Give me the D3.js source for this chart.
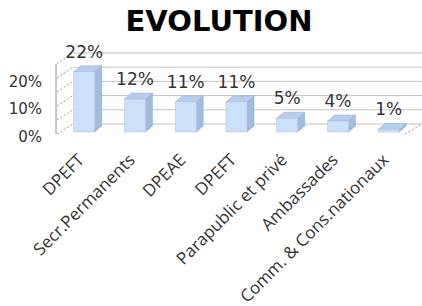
<!DOCTYPE html>
<html>
<head>
<meta charset="utf-8">
<script src="https://cdn.jsdelivr.net/npm/d3@7"></script>
<style>
  body { margin: 0; background: #fff; }
  svg { display: block; }
</style>
</head>
<body>
<svg id="chart" width="422" height="306"></svg>
<script>
// data
const categories = ['DPEFT', 'Secr.Permanents', 'DPEAE', 'DPEFT ', 'Parapublic et privé', 'Ambassades', 'Comm. & Cons.nationaux']
const values = [0.22, 0.12, 0.11, 0.11, 0.05, 0.04, 0.01]
const gridTicks = [0, 0.05, 0.10, 0.15, 0.20, 0.25]
const axisTicks = [0, 0.10, 0.20]
const title = 'EVOLUTION'

const svg = d3.select('#chart')
const pct = d3.format('.0%')

// 3d offsets
const depthX = 17, depthY = -10
const barDX = 7, barDY = -6

const x = d3.scaleBand().domain(categories).range([59, 414]).paddingInner(0.585).paddingOuter(0.29)
const yBar = d3.scaleLinear().domain([0, 0.25]).range([132, 63.5])
const yFront = d3.scaleLinear().domain([0, 0.25]).range([134, 64])
const yBack = d3.scaleLinear().domain([0, 0.25]).range([124, 53])
const yLab = d3.scaleLinear().domain([0, 0.25]).range([137, 68])

const axisX = 56

svg.append('text')
    .attr('x', 219).attr('y', 31)
    .attr('text-anchor', 'middle')
    .style('font-family', 'DejaVu Sans')
    .style('font-weight', 'bold')
    .style('font-size', '29px')
    .text(title)

// back wall gridlines
svg.append('g').selectAll('line')
    .data(gridTicks)
    .join('line')
    .attr('x1', axisX + depthX).attr('x2', 422)
    .attr('y1', d => yBack(d)).attr('y2', d => yBack(d))
    .attr('stroke', '#c4c4c4').attr('stroke-width', 1)

// side wall dashed lines
svg.append('g').selectAll('line')
    .data(gridTicks)
    .join('line')
    .attr('x1', axisX + 1).attr('y1', d => yFront(d))
    .attr('x2', axisX + depthX).attr('y2', d => yBack(d))
    .attr('stroke', '#9a9a9a').attr('stroke-dasharray', '2,2')

// floor right edge
svg.append('line')
    .attr('x1', 405).attr('y1', yFront(0))
    .attr('x2', 405 + depthX).attr('y2', yFront(0) + depthY)
    .attr('stroke', '#9a9a9a').attr('stroke-dasharray', '2,2')

// value axis
svg.append('line')
    .attr('x1', axisX).attr('x2', axisX)
    .attr('y1', yFront(0.25)).attr('y2', yFront(0))
    .attr('stroke', '#8c8c8c')

svg.append('g').selectAll('text')
    .data(axisTicks)
    .join('text')
    .attr('x', 42).attr('y', d => yLab(d))
    .attr('text-anchor', 'end')
    .attr('dominant-baseline', 'central')
    .style('font-family', 'DejaVu Sans')
    .style('font-size', '15px')
    .style('fill', '#333')
    .text(d => pct(d))

// bars
const bw = x.bandwidth()
const bars = svg.append('g').selectAll('g')
    .data(values)
    .join('g')

// side face
bars.append('path')
    .attr('d', (d, i) => {
        const x1 = x(categories[i]) + bw, top = yBar(d), bot = yBar(0)
        return `M${x1},${bot}L${x1},${top}L${x1 + barDX},${top + barDY}L${x1 + barDX},${bot + barDY}Z`
    })
    .attr('fill', '#a3bcdd').attr('stroke', '#93acce').attr('stroke-width', 0.5)

// top face
bars.append('path')
    .attr('d', (d, i) => {
        const x0 = x(categories[i]), top = yBar(d)
        return `M${x0},${top}L${x0 + bw},${top}L${x0 + bw + barDX},${top + barDY}L${x0 + barDX},${top + barDY}Z`
    })
    .attr('fill', '#b7cdeb').attr('stroke', '#93acce').attr('stroke-width', 0.5)

// front face
bars.append('rect')
    .attr('x', (d, i) => x(categories[i]))
    .attr('y', d => yBar(d))
    .attr('width', bw)
    .attr('height', d => yBar(0) - yBar(d))
    .attr('fill', '#cde0fa').attr('stroke', '#a9c0de').attr('stroke-width', 0.5)

// data labels
svg.append('g').selectAll('text')
    .data(values)
    .join('text')
    .attr('x', (d, i) => x(categories[i]) + bw / 2)
    .attr('y', d => yBar(d) - 20)
    .attr('text-anchor', 'middle')
    .attr('dominant-baseline', 'central')
    .style('font-family', 'DejaVu Sans')
    .style('font-size', '17px')
    .style('fill', '#333')
    .text(d => pct(d))

// category labels
svg.append('g').selectAll('text')
    .data(categories)
    .join('text')
    .attr('transform', d => `translate(${x(d) + bw / 2 + 1},${161}) rotate(-45)`)
    .attr('text-anchor', 'end')
    .style('font-family', 'Open Sans')
    .style('font-size', '17px')
    .style('fill', '#333')
    .text(d => d.trim())
</script>
</body>
</html>
